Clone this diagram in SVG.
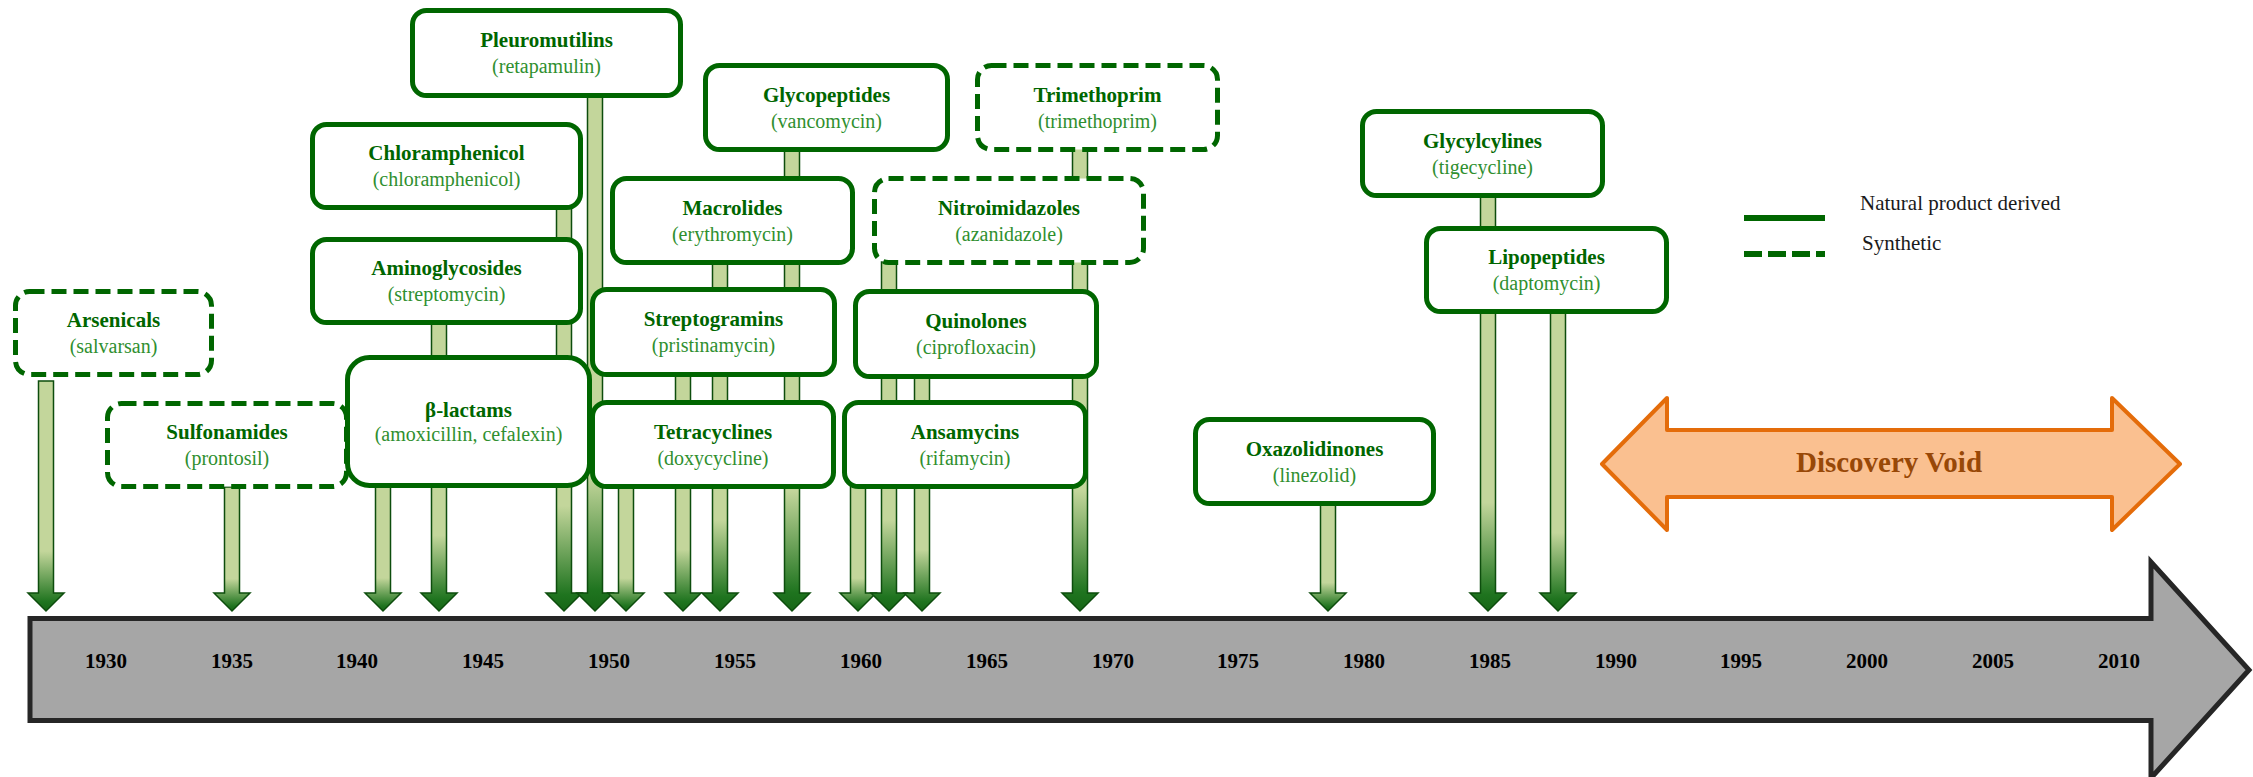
<svg xmlns="http://www.w3.org/2000/svg" width="2253" height="777" viewBox="0 0 2253 777">
<defs>
<linearGradient id="ag" x1="0" y1="0" x2="0" y2="1">
<stop offset="0" stop-color="#c3d69b"/>
<stop offset="0.74" stop-color="#c3d69b"/>
<stop offset="0.96" stop-color="#1f741f"/>
<stop offset="1" stop-color="#166616"/>
</linearGradient>
<style>
.box{fill:#fff;stroke:#006600;stroke-width:5}
.dash{stroke-dasharray:15 7}
.t{font-family:"Liberation Serif",serif;font-weight:bold;font-size:21px;fill:#006600;text-anchor:middle}
.s{font-family:"Liberation Serif",serif;font-size:20px;fill:#2f8f2f;text-anchor:middle}
.arr{fill:url(#ag);stroke:#0d4d0d;stroke-width:1.5}
.yr{font-family:"Liberation Serif",serif;font-weight:bold;font-size:21px;fill:#000;text-anchor:middle}
.lg{font-family:"Liberation Serif",serif;font-size:21px;fill:#1a1a1a}
</style>
</defs>
<rect width="2253" height="777" fill="#fff"/>
<g id="timeline">
<polygon points="30,618.5 2151,618.5 2151,562 2249,670 2151,778 2151,720.5 30,720.5" fill="#a6a6a6" stroke="#262626" stroke-width="5"/>
<text class="yr" x="106" y="668">1930</text>
<text class="yr" x="232" y="668">1935</text>
<text class="yr" x="357" y="668">1940</text>
<text class="yr" x="483" y="668">1945</text>
<text class="yr" x="609" y="668">1950</text>
<text class="yr" x="735" y="668">1955</text>
<text class="yr" x="861" y="668">1960</text>
<text class="yr" x="987" y="668">1965</text>
<text class="yr" x="1113" y="668">1970</text>
<text class="yr" x="1238" y="668">1975</text>
<text class="yr" x="1364" y="668">1980</text>
<text class="yr" x="1490" y="668">1985</text>
<text class="yr" x="1616" y="668">1990</text>
<text class="yr" x="1741" y="668">1995</text>
<text class="yr" x="1867" y="668">2000</text>
<text class="yr" x="1993" y="668">2005</text>
<text class="yr" x="2119" y="668">2010</text>
</g>
<g id="connectors">
<path class="arr" d="M38.5 381H53.5V593H64L46 611L28 593H38.5Z"/>
<path class="arr" d="M224.5 487H239.5V593H250L232 611L214 593H224.5Z"/>
<path class="arr" d="M375.5 484H390.5V593H401L383 611L365 593H375.5Z"/>
<path class="arr" d="M431.5 320H446.5V593H457L439 611L421 593H431.5Z"/>
<path class="arr" d="M556.5 207H571.5V593H582L564 611L546 593H556.5Z"/>
<path class="arr" d="M587.5 95H602.5V593H613L595 611L577 593H587.5Z"/>
<path class="arr" d="M618.5 485H633.5V593H644L626 611L608 593H618.5Z"/>
<path class="arr" d="M675.5 374H690.5V593H701L683 611L665 593H675.5Z"/>
<path class="arr" d="M712.5 262H727.5V593H738L720 611L702 593H712.5Z"/>
<path class="arr" d="M784.5 148H799.5V593H810L792 611L774 593H784.5Z"/>
<path class="arr" d="M850.5 485H865.5V593H876L858 611L840 593H850.5Z"/>
<path class="arr" d="M881.5 262H896.5V593H907L889 611L871 593H881.5Z"/>
<path class="arr" d="M914.5 375H929.5V593H940L922 611L904 593H914.5Z"/>
<path class="arr" d="M1072.5 148H1087.5V593H1098L1080 611L1062 593H1072.5Z"/>
<path class="arr" d="M1320.5 502H1335.5V593H1346L1328 611L1310 593H1320.5Z"/>
<path class="arr" d="M1480.5 194H1495.5V593H1506L1488 611L1470 593H1480.5Z"/>
<path class="arr" d="M1550.5 310H1565.5V593H1576L1558 611L1540 593H1550.5Z"/>
</g>
<g id="arsenicals"><rect class="box dash" x="15.5" y="291.5" width="196" height="83" rx="14"/><text class="t" x="113.5" y="327">Arsenicals</text><text class="s" x="113.5" y="353">(salvarsan)</text></g>
<g id="sulfonamides"><rect class="box dash" x="107.5" y="403.5" width="239" height="83" rx="14"/><text class="t" x="227" y="439">Sulfonamides</text><text class="s" x="227" y="465">(prontosil)</text></g>
<g id="betalactams"><rect class="box" x="347.5" y="357.5" width="242" height="128" rx="22"/><text class="t" x="468.5" y="417">β-lactams</text><text class="s" x="468.5" y="441">(amoxicillin, cefalexin)</text></g>
<g id="aminoglycosides"><rect class="box" x="312.5" y="239.5" width="268" height="83" rx="14"/><text class="t" x="446.5" y="275">Aminoglycosides</text><text class="s" x="446.5" y="301">(streptomycin)</text></g>
<g id="chloramphenicol"><rect class="box" x="312.5" y="124.5" width="268" height="83" rx="14"/><text class="t" x="446.5" y="160">Chloramphenicol</text><text class="s" x="446.5" y="186">(chloramphenicol)</text></g>
<g id="pleuromutilins"><rect class="box" x="412.5" y="10.5" width="268" height="85" rx="14"/><text class="t" x="546.5" y="47">Pleuromutilins</text><text class="s" x="546.5" y="73">(retapamulin)</text></g>
<g id="glycopeptides"><rect class="box" x="705.5" y="65.5" width="242" height="84" rx="14"/><text class="t" x="826.5" y="101.5">Glycopeptides</text><text class="s" x="826.5" y="127.5">(vancomycin)</text></g>
<g id="trimethoprim"><rect class="box dash" x="977.5" y="65.5" width="240" height="84" rx="14"/><text class="t" x="1097.5" y="101.5">Trimethoprim</text><text class="s" x="1097.5" y="127.5">(trimethoprim)</text></g>
<g id="macrolides"><rect class="box" x="612.5" y="178.5" width="240" height="84" rx="14"/><text class="t" x="732.5" y="214.5">Macrolides</text><text class="s" x="732.5" y="240.5">(erythromycin)</text></g>
<g id="nitroimidazoles"><rect class="box dash" x="874.5" y="178.5" width="269" height="84" rx="14"/><text class="t" x="1009" y="214.5">Nitroimidazoles</text><text class="s" x="1009" y="240.5">(azanidazole)</text></g>
<g id="streptogramins"><rect class="box" x="592.5" y="289.5" width="242" height="85" rx="14"/><text class="t" x="713.5" y="326">Streptogramins</text><text class="s" x="713.5" y="352">(pristinamycin)</text></g>
<g id="quinolones"><rect class="box" x="855.5" y="291.5" width="241" height="85" rx="14"/><text class="t" x="976" y="328">Quinolones</text><text class="s" x="976" y="354">(ciprofloxacin)</text></g>
<g id="tetracyclines"><rect class="box" x="592.5" y="402.5" width="241" height="84" rx="14"/><text class="t" x="713" y="438.5">Tetracyclines</text><text class="s" x="713" y="464.5">(doxycycline)</text></g>
<g id="ansamycins"><rect class="box" x="844.5" y="402.5" width="241" height="84" rx="14"/><text class="t" x="965" y="438.5">Ansamycins</text><text class="s" x="965" y="464.5">(rifamycin)</text></g>
<g id="oxazolidinones"><rect class="box" x="1195.5" y="419.5" width="238" height="84" rx="14"/><text class="t" x="1314.5" y="455.5">Oxazolidinones</text><text class="s" x="1314.5" y="481.5">(linezolid)</text></g>
<g id="glycylcylines"><rect class="box" x="1362.5" y="111.5" width="240" height="84" rx="14"/><text class="t" x="1482.5" y="147.5">Glycylcylines</text><text class="s" x="1482.5" y="173.5">(tigecycline)</text></g>
<g id="lipopeptides"><rect class="box" x="1426.5" y="228.5" width="240" height="83" rx="14"/><text class="t" x="1546.5" y="264">Lipopeptides</text><text class="s" x="1546.5" y="290">(daptomycin)</text></g>
<g id="legend">
<line x1="1744" y1="218" x2="1825" y2="218" stroke="#006600" stroke-width="6"/>
<line x1="1744" y1="254" x2="1825" y2="254" stroke="#006600" stroke-width="6" stroke-dasharray="18 6"/>
<text class="lg" x="1860" y="210">Natural product derived</text>
<text class="lg" x="1862" y="250">Synthetic</text>
</g>
<g id="discovery-void">
<polygon points="1602,464 1667,398 1667,430 2112,430 2112,398 2180,464 2112,530 2112,497 1667,497 1667,530" fill="#fac090" stroke="#e46c0a" stroke-width="4" stroke-linejoin="round"/>
<text x="1889" y="472" font-family="Liberation Serif, serif" font-weight="bold" font-size="29" fill="#984807" text-anchor="middle">Discovery Void</text>
</g>
</svg>
